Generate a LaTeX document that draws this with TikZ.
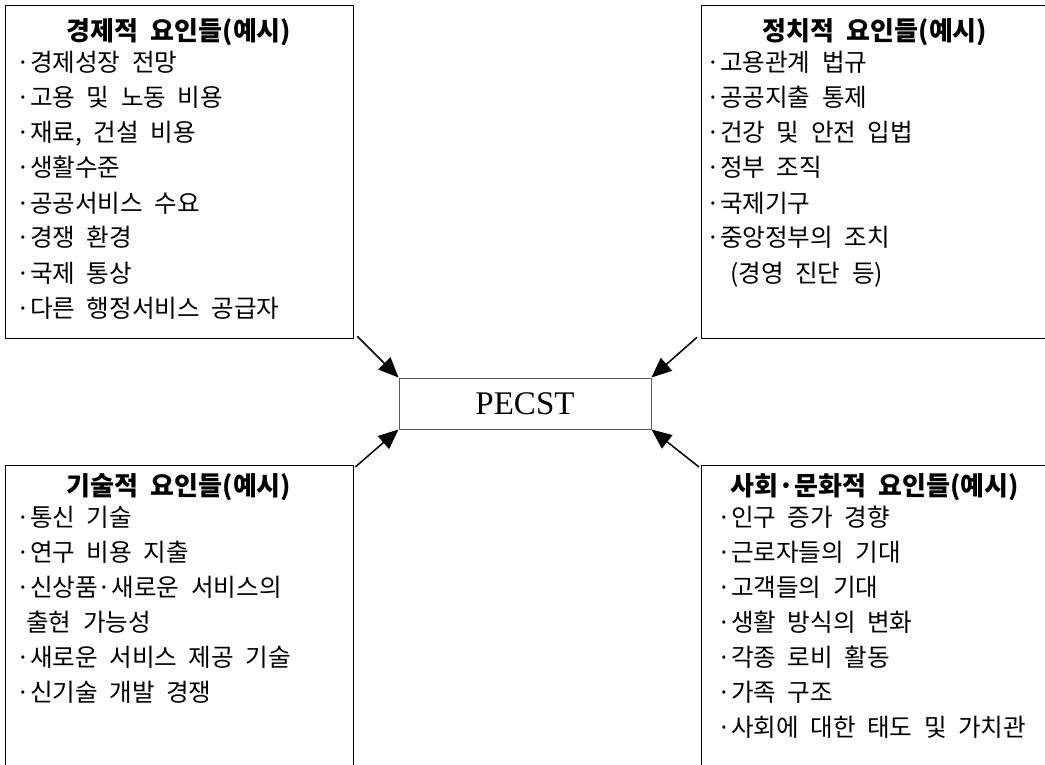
\documentclass[tikz,border=0pt]{standalone}
\usepackage{fontspec}
\setmainfont{Noto Sans CJK KR}[WordSpace=2.1]
\newfontfamily\latinserif{Liberation Serif}
\usetikzlibrary{arrows.meta}
\tikzset{
  box/.style={draw=black, line width=1.3pt, minimum width=348pt, inner sep=0pt, anchor=north west},
  ttl/.style={inner sep=0pt, anchor=base, font=\fontsize{26}{30}\selectfont\bfseries},
  item/.style={inner sep=0pt, anchor=base west, font=\fontsize{24.6}{30}\selectfont},
  centerbox/.style={draw=black!65, line width=1pt, minimum width=252pt, minimum height=51pt, inner sep=0pt, font=\latinserif\fontsize{33}{36}\selectfont},
  arr/.style={line width=1.5pt, -{Triangle[length=20pt,width=17pt]}}
}
\begin{document}
\begin{tikzpicture}[x=1pt,y=-1pt]
\useasboundingbox (0,0) rectangle (1045,765);
% boxes
\node[box, minimum height=333pt] (tlbox) at (5,5) {};
\node[box, minimum height=333pt] (trbox) at (701,5) {};
\node[box, minimum height=320pt] (blbox) at (5,465) {};
\node[box, minimum height=320pt] (brbox) at (701,465) {};
% centre
\node[centerbox] (pecst) at (525,403.5) {PECST};
% titles
\node[ttl] (tlt) at (179,41) {경제적 요인들(예시)};
\node[ttl] (trt) at (875,41) {정치적 요인들(예시)};
\node[ttl] (blt) at (179,495) {기술적 요인들(예시)};
\node[ttl] (brt) at (875,495) {사회·문화적 요인들(예시)};
% items
\foreach \t [count=\i from 0] in {·경제성장 전망, ·고용 및 노동 비용, {·재료, 건설 비용}, ·생활수준, ·공공서비스 수요, ·경쟁 환경, ·국제 통상, ·다른 행정서비스 공급자}
  {\node[item] (tl\i) at (16,{72+35*\i}) {\t};}
\foreach \t [count=\i from 0] in {·고용관계 법규, ·공공지출 통제, ·건강 및 안전 입법, ·정부 조직, ·국제기구, ·중앙정부의 조치}
  {\node[item] (tr\i) at (706,{72+35*\i}) {\t};}
\node[item] (tr6) at (730,282) {(경영 진단 등)};
\foreach \t [count=\i from 0] in {·통신 기술, ·연구 비용 지출, ·신상품·새로운 서비스의}
  {\node[item] (bl\i) at (16,{526+35*\i}) {\t};}
\node[item] (bl3) at (26,631) {출현 가능성};
\node[item] (bl4) at (16,666) {·새로운 서비스 제공 기술};
\node[item] (bl5) at (16,701) {·신기술 개발 경쟁};
\foreach \t [count=\i from 0] in {·인구 증가 경향, ·근로자들의 기대, ·고객들의 기대, ·생활 방식의 변화, ·각종 로비 활동, ·가족 구조, ·사회에 대한 태도 및 가치관}
  {\node[item] (br\i) at (717,{526+35*\i}) {\t};}
% arrow start points
\coordinate (s1) at ([shift={(3,-3)}]tlbox.south east);
\coordinate (s2) at ([shift={(-4,-2)}]trbox.south west);
\coordinate (s3) at ([shift={(1,2)}]blbox.north east);
\coordinate (s4) at ([shift={(-2,2)}]brbox.north west);
\draw[arr] (s1) -- (pecst.north west);
\draw[arr] (s2) -- (pecst.north east);
\draw[arr] (s3) -- (pecst.south west);
\draw[arr] (s4) -- (pecst.south east);
\end{tikzpicture}
\end{document}
